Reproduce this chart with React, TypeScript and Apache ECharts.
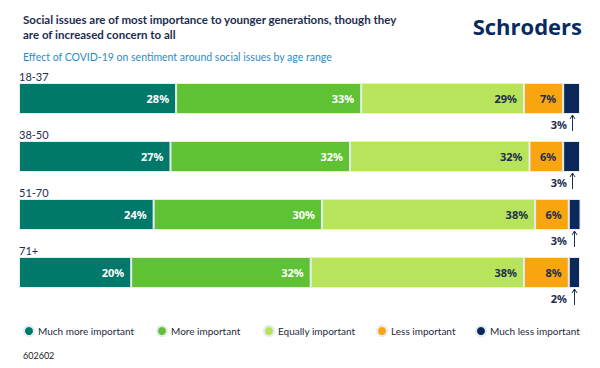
import React, { useEffect, useRef } from "react";
import * as echarts from "echarts";

const ageRanges = ["18-37", "38-50", "51-70", "71+"];
const seriesNames = ["Much more important", "More important", "Equally important", "Less important", "Much less important"];
const muchMore = [28, 27, 24, 20];
const more = [33, 32, 30, 32];
const equally = [29, 32, 38, 38];
const less = [7, 6, 6, 8];
const muchLess = [3, 3, 3, 2];

const colors = ["#00786A", "#5EC234", "#B8E45C", "#F8A50F", "#0A285A"];
const labelColors = ["#ffffff", "#ffffff", "#1C2D4F", "#1C2D4F"];
const NAVY = "#1C2D4F";
const legendLefts = [18, 151, 258, 371, 470];

export default function App() {
  const ref = useRef<HTMLDivElement>(null);
  useEffect(() => {
    if (!ref.current) return;
    const chart = echarts.init(ref.current, null, { renderer: "svg" });
    const values = [muchMore, more, equally, less, muchLess];
    const barSeries = values.map((arr, k) => ({
      type: "bar",
      name: seriesNames[k],
      stack: "total",
      data: arr,
      barWidth: 31,
      clip: true,
      itemStyle: { color: colors[k], borderColor: "#E4EBF1", borderWidth: 1 },
      label: {
        show: k < 4,
        position: "insideRight",
        distance: 7,
        formatter: "{c}%",
        color: labelColors[k] || "#fff",
        fontFamily: "Noto Sans",
        fontWeight: "bold",
        fontSize: 11,
      },
    }));
    const arrowData = ageRanges.map((_, i) => {
      const start = muchMore[i] + more[i] + equally[i] + less[i];
      const end = Math.min(100, start + muchLess[i]);
      return [(Math.min(start, 100) + end) / 2, i, muchLess[i]];
    });
    const legends = seriesNames.map((name, k) => ({
      left: legendLefts[k],
      top: 320,
      icon: "circle",
      itemWidth: 10,
      itemHeight: 10,
      itemGap: 0,
      data: [name],
      textStyle: { fontFamily: "Lato", fontSize: 10, color: "#1E2A3A", padding: [0, 0, 0, -1] },
    }));
    const option: any = {
      animation: false,
      textStyle: { fontFamily: "Lato" },
      title: [
        {
          text: "Social issues are of most importance to younger generations, though they\nare of increased concern to all",
          left: 18,
          top: 7,
          textStyle: { fontFamily: "Lato", fontWeight: "bold", fontSize: 11.5, color: NAVY, lineHeight: 15 },
        },
        {
          text: "Effect of COVID-19 on sentiment around social issues by age range",
          left: 18,
          top: 46,
          textStyle: { fontFamily: "Lato", fontWeight: "normal", fontSize: 10.5, color: "#2B8BC9" },
        },
        {
          text: "602602",
          left: 18,
          top: 346,
          textStyle: { fontFamily: "Lato", fontWeight: "normal", fontSize: 9, color: "#222" },
        },
      ],
      graphic: [
        {
          type: "text",
          right: 18,
          top: 15,
          style: { text: "Schroders", fontFamily: "Open Sans", fontWeight: "bold", fontSize: 22, fill: "#0A2A5E" },
        },
      ],
      legend: legends,
      grid: { left: 19, right: 20, top: 69.5, bottom: 66.5 },
      xAxis: { type: "value", min: 0, max: 100, show: false },
      yAxis: {
        type: "category",
        data: ageRanges,
        inverse: true,
        axisLine: { show: false },
        axisTick: { show: false },
        axisLabel: {
          inside: true,
          margin: 0,
          align: "left",
          verticalAlign: "bottom",
          padding: [0, 0, 17, 0],
          color: NAVY,
          fontFamily: "Lato",
          fontSize: 11,
        },
      },
      series: [
        ...barSeries,
        {
          type: "custom",
          data: arrowData,
          encode: { x: 0, y: 1 },
          z: 10,
          silent: true,
          renderItem: (params: any, api: any) => {
            const p = api.coord([api.value(0), api.value(1)]);
            const rightEnd = api.coord([100, api.value(1)]);
            const bottom = p[1] + 15.5;
            const x = Math.round(p[0]) + 0.5;
            return {
              type: "group",
              children: [
                { type: "line", shape: { x1: x, y1: bottom + 1, x2: x, y2: bottom + 17 }, style: { stroke: NAVY, lineWidth: 1 } },
                { type: "polyline", shape: { points: [[x - 2.5, bottom + 5], [x, bottom + 1], [x + 2.5, bottom + 5]] }, style: { stroke: NAVY, lineWidth: 1, fill: null } },
                {
                  type: "text",
                  x: rightEnd[0] - 13,
                  y: bottom + 10,
                  style: {
                    text: api.value(2) + "%",
                    align: "right",
                    verticalAlign: "middle",
                    fill: NAVY,
                    fontFamily: "Noto Sans",
                    fontWeight: "bold",
                    fontSize: 11,
                  },
                },
              ],
            };
          },
        },
      ],
    };
    chart.setOption(option);
    return () => chart.dispose();
  }, []);
  return <div ref={ref} style={{ width: 600, height: 368, position: "absolute", left: 0, top: 0 }} />;
}
